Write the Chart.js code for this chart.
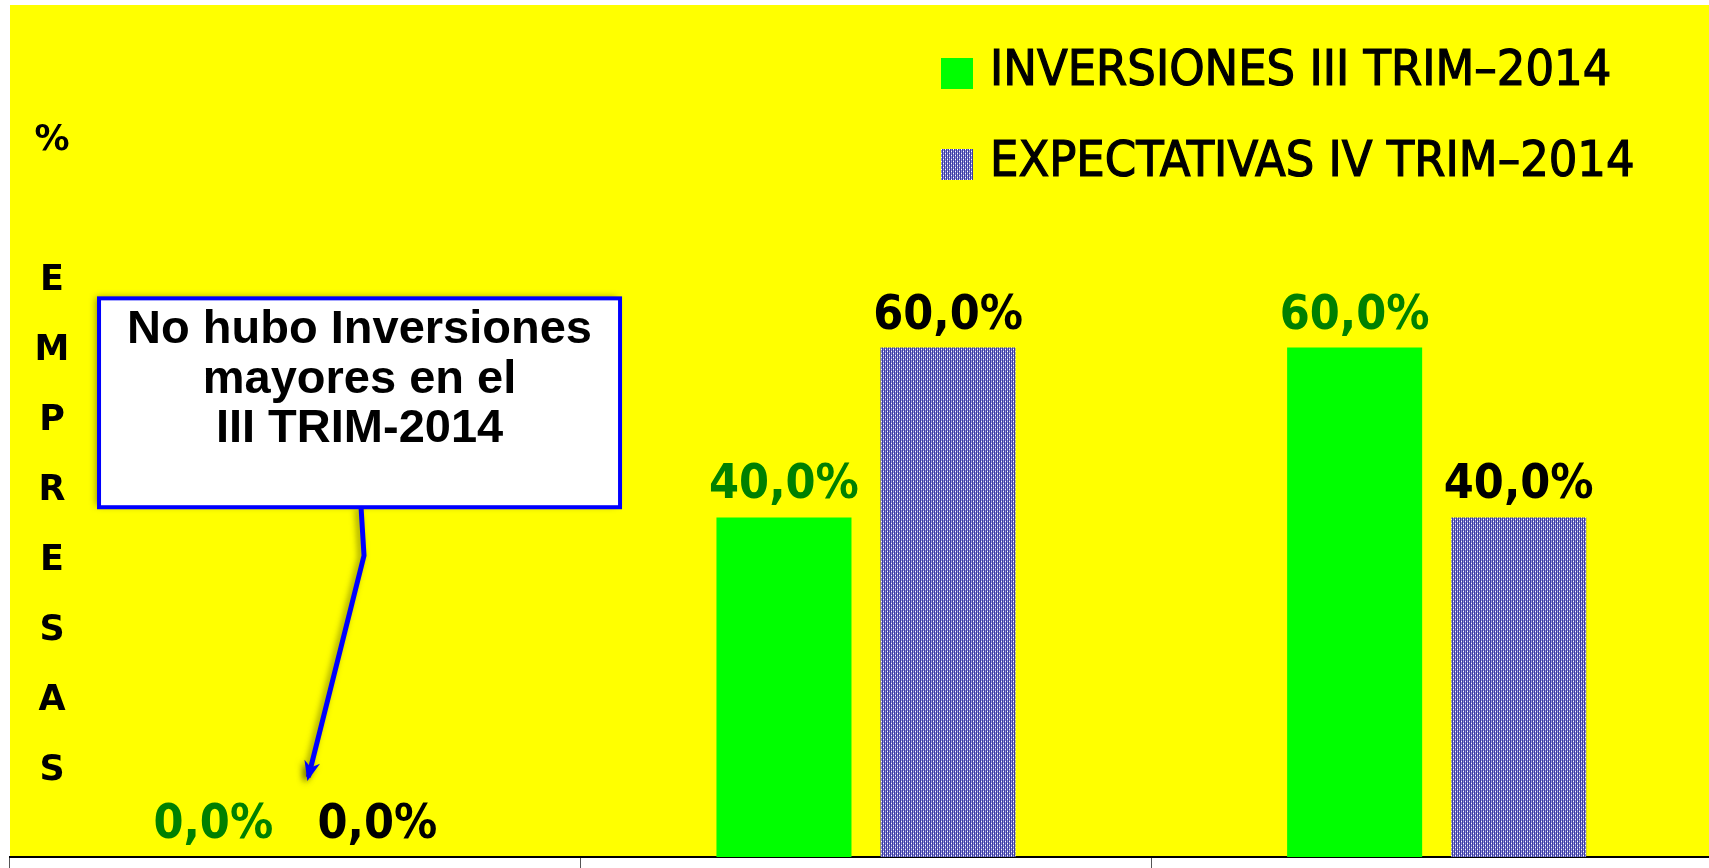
<!DOCTYPE html>
<html>
<head>
<meta charset="utf-8">
<script src="https://cdn.jsdelivr.net/npm/chart.js@4.4.0/dist/chart.umd.min.js"></script>
<style>
    html, body { margin: 0; padding: 0; background: #fff; overflow: hidden; }
    canvas { display: block; }
</style>
</head>
<body>
<canvas id="grafico" width="1722" height="868"></canvas>
<script>
// Datos del gráfico
const categorias = ['Grupo 1', 'Grupo 2', 'Grupo 3'];
const nombresSeries = ['INVERSIONES III TRIM–2014', 'EXPECTATIVAS IV TRIM–2014'];
const inversiones = [0, 0.40, 0.60];
const expectativas = [0, 0.60, 0.40];
const letrasEjeY = ['%', '', 'E', 'M', 'P', 'R', 'E', 'S', 'A', 'S'];
const textoNota = ['No hubo Inversiones', 'mayores en el', 'III TRIM-2014'];

const coloresEtiqueta = ['#008000', '#000000'];

// Trama azul de las barras de expectativas
function crearTrama(ctx) {
    const c = document.createElement('canvas');
    c.width = 4;
    c.height = 4;
    const g = c.getContext('2d');
    g.fillStyle = '#3c3ca4';
    g.fillRect(0, 0, 4, 4);
    g.fillStyle = '#8c8cd4';
    g.fillRect(1, 0, 1, 4);
    g.fillRect(3, 0, 1, 4);
    g.fillStyle = '#ffffff';
    g.fillRect(1, 1, 1, 1);
    g.fillRect(3, 3, 1, 1);
    return ctx.createPattern(c, 'repeat');
}

function formatear(v) {
    return (v * 100).toFixed(1).replace('.', ',') + '%';
}

const canvas = document.getElementById('grafico');
const ctx = canvas.getContext('2d');
const trama = crearTrama(ctx);

// Fondo amarillo del área
const fondoPlugin = {
    id: 'fondo',
    beforeDraw(chart) {
        const a = chart.chartArea;
        const c = chart.ctx;
        c.save();
        c.fillStyle = '#ffff00';
        c.fillRect(a.left, a.top - 3, a.right - a.left, a.bottom - a.top + 3);
        c.restore();
    }
};

// Etiquetas de valor encima de cada barra
const etiquetasPlugin = {
    id: 'etiquetas',
    afterDatasetsDraw(chart) {
        const c = chart.ctx;
        c.save();
        c.textAlign = 'center';
        c.textBaseline = 'alphabetic';
        c.font = 'bold 48px "DejaVu Sans Condensed", "DejaVu Sans"';
        chart.data.datasets.forEach((ds, i) => {
            const meta = chart.getDatasetMeta(i);
            meta.data.forEach((bar, j) => {
                c.fillStyle = coloresEtiqueta[i];
                c.fillText(formatear(ds.data[j]), bar.x, bar.y - 19);
            });
        });
        c.restore();
    }
};

// Título vertical del eje Y (letras apiladas)
const tituloYPlugin = {
    id: 'tituloY',
    afterDraw(chart) {
        const c = chart.ctx;
        c.save();
        c.fillStyle = '#000';
        c.textAlign = 'center';
        c.font = 'bold 35px "DejaVu Sans"';
        letrasEjeY.forEach((l, k) => {
            c.fillText(l, chart.chartArea.left + 42, 150 + k * 70);
        });
        c.restore();
    }
};

// Leyenda a la derecha arriba
const leyendaPlugin = {
    id: 'leyenda',
    afterDraw(chart) {
        const c = chart.ctx;
        c.save();
        c.font = '50px "DejaVu Sans Condensed", "DejaVu Sans"';
        c.textBaseline = 'alphabetic';
        c.lineWidth = 1.2;
        c.strokeStyle = '#000';
        chart.data.datasets.forEach((ds, i) => {
            const top = 58 + i * 91;
            c.fillStyle = ds.backgroundColor;
            c.fillRect(941, top, 32, 31);
            c.fillStyle = '#000';
            c.fillText(ds.label, 990, top + 27);
            c.strokeText(ds.label, 990, top + 27);
        });
        c.restore();
    }
};

// Cuadro de nota con flecha
const notaPlugin = {
    id: 'nota',
    afterDraw(chart) {
        const c = chart.ctx;
        const x = chart.scales.x;
        const y = chart.scales.y;
        const ancho = (x.right - x.left) / categorias.length;
        const izq = x.left + 0.156 * ancho;
        const der = x.left + 1.069 * ancho;
        const arriba = y.getPixelForValue(0.658);
        const abajo = y.getPixelForValue(0.412);
        const centro = (izq + der) / 2;

        c.save();
        // flecha
        c.shadowColor = 'rgba(60,60,0,0.55)';
        c.shadowBlur = 6;
        c.shadowOffsetX = -3;
        c.shadowOffsetY = 2;
        const x0 = izq + 262, x1 = izq + 265;
        const y1 = y.getPixelForValue(0.355);
        const xf = x.getPixelForValue(0) + 13;
        const yf = y.getPixelForValue(0.094);
        c.strokeStyle = '#0000ff';
        c.lineWidth = 5;
        c.beginPath();
        c.moveTo(x0, abajo);
        c.lineTo(x1, y1);
        c.lineTo(xf, yf);
        c.stroke();
        const ang = Math.atan2(yf - y1, xf - x1);
        c.fillStyle = '#0000ff';
        c.beginPath();
        c.moveTo(xf + 4 * Math.cos(ang), yf + 4 * Math.sin(ang));
        c.lineTo(xf - 16 * Math.cos(ang) + 8 * Math.sin(ang), yf - 16 * Math.sin(ang) - 8 * Math.cos(ang));
        c.lineTo(xf - 10 * Math.cos(ang), yf - 10 * Math.sin(ang));
        c.lineTo(xf - 16 * Math.cos(ang) - 8 * Math.sin(ang), yf - 16 * Math.sin(ang) + 8 * Math.cos(ang));
        c.closePath();
        c.fill();

        // caja
        c.shadowColor = 'rgba(60,60,0,0.6)';
        c.shadowBlur = 7;
        c.shadowOffsetX = -3;
        c.shadowOffsetY = -1;
        c.fillStyle = '#ffffff';
        c.fillRect(izq, arriba, der - izq, abajo - arriba);
        c.shadowColor = 'transparent';
        c.lineWidth = 4;
        c.strokeStyle = '#0000ff';
        c.strokeRect(izq, arriba, der - izq, abajo - arriba);

        c.fillStyle = '#000';
        c.textAlign = 'center';
        c.font = 'bold 47px "Liberation Sans", Arial';
        textoNota.forEach((t, k) => {
            c.fillText(t, centro, arriba + 45 + k * 49.5);
        });
        c.restore();
    }
};

new Chart(ctx, {
    type: 'bar',
    data: {
        labels: categorias,
        datasets: [
            {
                label: nombresSeries[0],
                data: inversiones,
                backgroundColor: '#00ff00',
                borderWidth: 0,
                categoryPercentage: 0.575,
                barPercentage: 0.823
            },
            {
                label: nombresSeries[1],
                data: expectativas,
                backgroundColor: trama,
                borderWidth: 0,
                categoryPercentage: 0.575,
                barPercentage: 0.823
            }
        ]
    },
    options: {
        responsive: false,
        animation: false,
        layout: { padding: { left: 10, top: 8, right: 0, bottom: 0 } },
        plugins: {
            legend: { display: false },
            tooltip: { enabled: false }
        },
        scales: {
            x: {
                offset: true,
                border: { display: true, color: '#000', width: 2 },
                grid: {
                    display: true,
                    offset: true,
                    drawOnChartArea: false,
                    drawTicks: true,
                    tickLength: 11,
                    color: '#555',
                    lineWidth: 1
                },
                ticks: { display: false }
            },
            y: {
                display: false,
                min: 0,
                max: 1
            }
        }
    },
    plugins: [fondoPlugin, etiquetasPlugin, tituloYPlugin, leyendaPlugin, notaPlugin]
});
</script>
</body>
</html>
